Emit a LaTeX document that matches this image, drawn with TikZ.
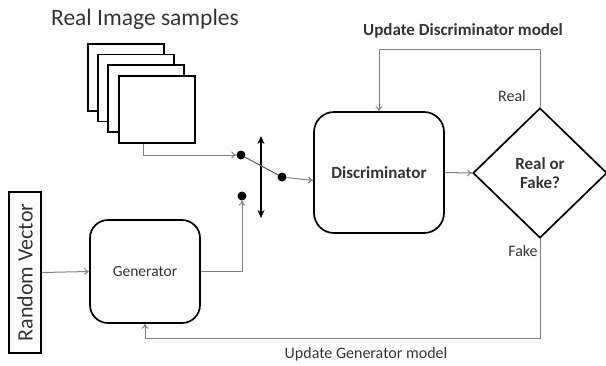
\documentclass[tikz,border=0pt]{standalone}
\usepackage{fontspec}
\setmainfont{Carlito}
\usetikzlibrary{shapes.geometric,arrows.meta}
\definecolor{txt}{HTML}{333333}
\definecolor{ln}{HTML}{7F7F7F}
\begin{document}
\begin{tikzpicture}[x=1pt,y=-1pt,
  frame/.style={draw=black,line width=1.7pt,fill=white,minimum width=76pt,minimum height=67pt,inner sep=0pt},
  rbox/.style={draw=black,line width=1.7pt,fill=white,rounded corners=20pt,inner sep=0pt,text=txt},
  conn/.style={draw=ln,line width=1pt,-{To[length=5pt,width=7pt]}},
  plain/.style={draw=ln!70!black,line width=1pt},
  dot/.style={circle,fill=black,inner sep=0pt,minimum size=9pt},
  lbl/.style={text=txt,inner sep=0pt,font=\fontsize{16}{18}\selectfont}
]
\useasboundingbox (0,0) rectangle (606,365);
% title
\node[text=txt,font=\fontsize{23.5}{26}\selectfont] (title) at (145,19) {Real Image samples};
% stacked frames
\node[frame] (f1) at (126,77.5) {};
\node[frame] (f2) at (136,88) {};
\node[frame] (f3) at (146,98.5) {};
\node[frame] (f4) at (157,109.5) {};
% dots and switch
\node[dot] (d1) at (241,155) {};
\node[dot] (d2) at (282,177) {};
\node[dot] (d3) at (242,196) {};
\coordinate (sw1) at (261,136);
\coordinate (sw2) at (261,218);
\draw[line width=2pt,{Stealth[length=8pt,width=7pt]}-{Stealth[length=8pt,width=7pt]}] (sw1) -- (sw2);
% discriminator
\node[rbox,minimum width=130pt,minimum height=121pt,font=\bfseries\fontsize{17}{19}\selectfont] (disc) at (379,172.5) {Discriminator};
% diamond
\node[diamond,draw=black,line width=1.7pt,fill=white,minimum width=134pt,minimum height=130pt,inner sep=0pt,text=txt,align=center,font=\bfseries\fontsize{17}{19}\selectfont] (dia) at (540,173) {Real or\\Fake?};
% generator
\node[rbox,rounded corners=18pt,minimum width=110pt,minimum height=103pt,font=\fontsize{15.5}{17}\selectfont] (gen) at (145,271.5) {Generator};
% random vector
\node[draw=black,line width=1.7pt,minimum width=161pt,minimum height=32pt,inner sep=0pt,rotate=90,text=txt,font=\fontsize{22}{24}\selectfont] (rv) at (25,272.5) {Random Vector};
% connectors
\draw[conn] ([xshift=-14pt]f4.south) |- (d1);
\draw[plain] (d1) -- (d2);
\draw[conn] (d2) -- ([yshift=-8pt]disc.west);
\draw[conn] (disc.east) -- (dia.west);
\draw[conn] (dia.north) -- ++(0,-58) -| (disc.north);
\draw[conn] (dia.south) -- ++(0,100) -| (gen.south);
\draw[conn] (rv.south) -- (gen.west);
\draw[conn] (gen.east) -| (d3);
% labels
\node[text=txt,font=\bfseries\fontsize{17}{19}\selectfont] (ud) at (463,31) {Update Discriminator model};
\node[lbl] (real) at (512,96) {Real};
\node[lbl] (fake) at (523,251) {Fake};
\node[lbl] (ug) at (366,354) {Update Generator model};
\end{tikzpicture}
\end{document}
